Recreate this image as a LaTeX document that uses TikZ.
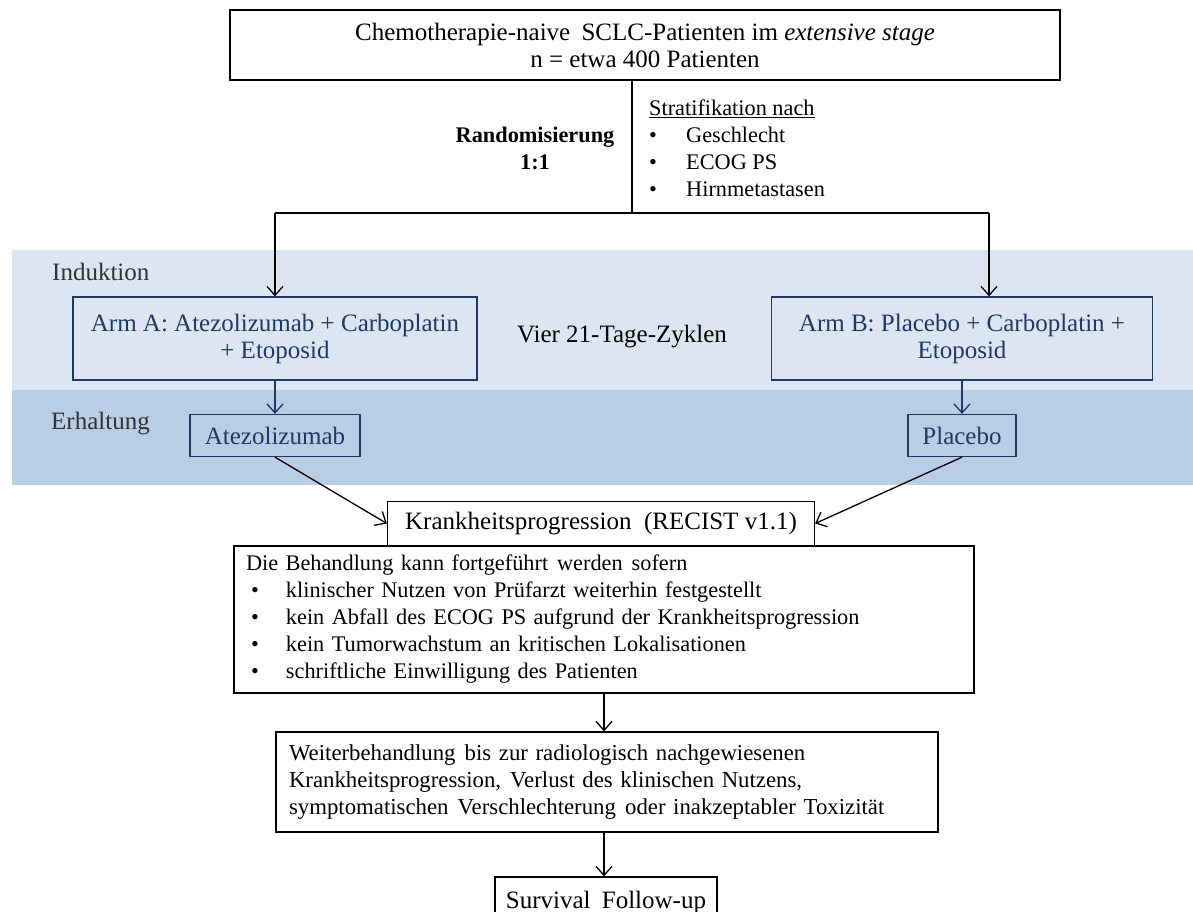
\documentclass[tikz,border=0pt]{standalone}
\usepackage{fontspec}
\setmainfont{Liberation Serif}
\usetikzlibrary{arrows.meta}
\definecolor{bandlight}{RGB}{220,230,242}
\definecolor{banddark}{RGB}{185,205,229}
\definecolor{navy}{RGB}{31,56,100}
\definecolor{labgray}{RGB}{50,50,50}
\newcommand{\bigfont}{\fontsize{25}{27}\selectfont}
\newcommand{\smallerfont}{\fontsize{22.3}{27}\selectfont}
\tikzset{
  box/.style={draw=black, fill=white, line width=1.3pt, inner sep=0pt, align=center},
  bluebox/.style={draw=navy, line width=1.3pt, inner sep=0pt, align=center, text=navy},
  plain/.style={inner sep=0pt},
  conn/.style={line width=1.3pt},
  arr/.style={conn, -{Straight Barb[length=9pt,width=16pt,line width=1.3pt]}},
  bluearr/.style={arr, draw=navy}
}
\begin{document}
\begin{tikzpicture}[x=1pt,y=-1pt, font=\bigfont]
\useasboundingbox (0,0) rectangle (1193,912);
% bands
\fill[bandlight] (12,250) rectangle (1193,390);
\fill[banddark] (12,390) rectangle (1193,485);

% top box
\node[box, minimum width=830pt, minimum height=70pt] (top) at (645,45)
  {Chemotherapie-naive\hspace{0.45em}SCLC-Patienten im \textit{extensive stage}\\ n = etwa 400 Patienten};

\node[plain, font=\smallerfont\bfseries, align=center] (rand) at (535,148.5) {Randomisierung\\1:1};
\node[plain, align=left, anchor=west, font=\smallerfont] (strat) at (649,148.5)
  {\underline{Stratifikation nach}\\
   \hspace*{0pt}\makebox[37pt][l]{\textbullet}Geschlecht\\
   \hspace*{0pt}\makebox[37pt][l]{\textbullet}ECOG PS\\
   \hspace*{0pt}\makebox[37pt][l]{\textbullet}Hirnmetastasen};

\coordinate (split) at (632,213);

% phase labels
\node[plain, anchor=west, text=labgray] (ind) at (52,272) {Induktion};
\node[plain, anchor=west, text=labgray] (erh) at (51,424) {Erhaltung};

% arms
\node[bluebox, minimum width=404pt, minimum height=83pt] (armA) at (275,338.5)
  {Arm A: Atezolizumab + Carboplatin\\ + Etoposid};
\node[bluebox, minimum width=381pt, minimum height=83pt] (armB) at (962,338.5)
  {Arm B: Placebo + Carboplatin +\\ Etoposid};
\node[plain] (cyc) at (622,337) {Vier 21-Tage-Zyklen};

\node[bluebox, minimum width=170pt, minimum height=42pt] (atezo) at (275,435.5) {Atezolizumab};
\node[bluebox, minimum width=108pt, minimum height=42pt] (plac) at (962,435.5) {Placebo};

% progression
\node[box, minimum width=427pt, minimum height=44pt] (prog) at (601,523.5) {Krankheitsprogression\hspace{0.5em}(RECIST v1.1)};

\node[box, minimum width=740pt, minimum height=147pt, text width=716pt, align=left, font=\smallerfont] (cont) at (604,619.5)
  {Die Behandlung kann fortgeführt\hspace{0.4em}werden\hspace{0.4em}sofern\\
   \hspace*{5pt}\makebox[35pt][l]{\textbullet}klinischer Nutzen von Prüfarzt weiterhin festgestellt\\
   \hspace*{5pt}\makebox[35pt][l]{\textbullet}kein Abfall des ECOG PS aufgrund der Krankheitsprogression\\
   \hspace*{5pt}\makebox[35pt][l]{\textbullet}kein Tumorwachstum an kritischen Lokalisationen\\
   \hspace*{5pt}\makebox[35pt][l]{\textbullet}schriftliche Einwilligung des Patienten};

\node[box, minimum width=662pt, minimum height=100pt, text width=636pt, align=left, font=\fontsize{22.8}{27}\selectfont] (weiter) at (607,782)
  {Weiterbehandlung\hspace{0.4em}bis zur radiologisch nachgewiesenen\\
   Krankheitsprogression,\hspace{0.4em}Verlust des klinischen Nutzens,\\
   symptomatischen\hspace{0.4em}Verschlechterung\hspace{0.4em}oder inakzeptabler Toxizität};

\node[box, minimum width=222pt, minimum height=50pt] (surv) at (606,902) {Survival\hspace{0.45em}Follow-up};

% connectors
\draw[conn] (top.south -| split) -- (split);
\draw[conn] (armA.north |- split) -- ([xshift=27pt]armB.north |- split);
\draw[arr] (armA.north |- split) -- (armA.north);
\draw[arr] ([xshift=27pt]armB.north |- split) -- ([xshift=27pt]armB.north);
\draw[bluearr] (armA.south) -- (atezo.north);
\draw[bluearr] (armB.south) -- (plac.north);
\draw[arr] (atezo.south) -- (prog.west);
\draw[arr] (plac.south) -- (prog.east);
\draw[arr] (cont.south) -- (weiter.north -| cont.south);
\draw[arr] (weiter.south -| cont.south) -- (surv.north -| cont.south);
\end{tikzpicture}
\end{document}
